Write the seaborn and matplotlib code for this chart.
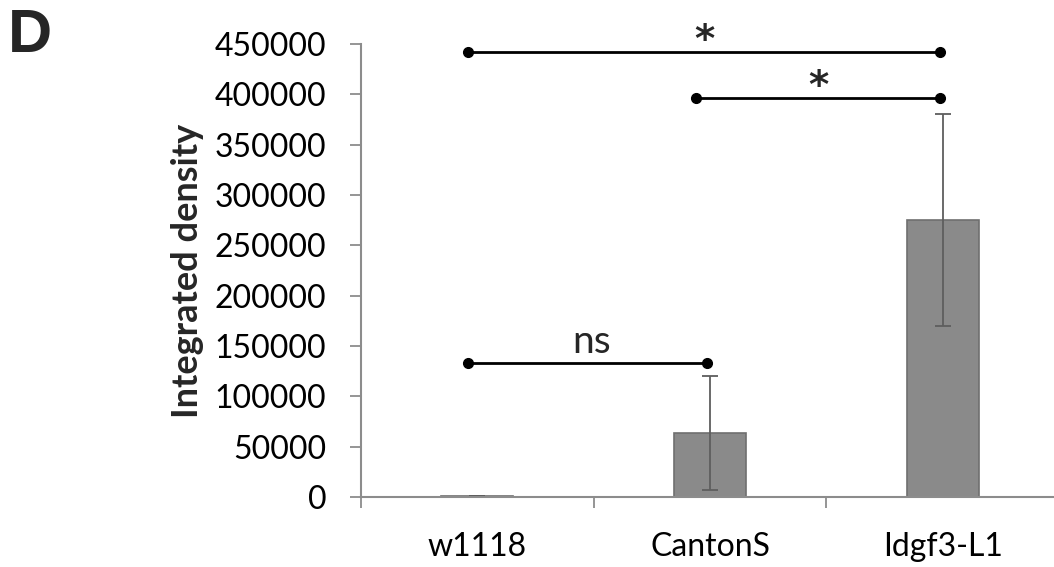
import numpy as np
import matplotlib
matplotlib.use('Agg')
import matplotlib.pyplot as plt
import seaborn as sns

# data
groups = ['w1118', 'CantonS', 'Idgf3-L1']
means = [1000, 63500, 275000]
errs = [0, 56500, 105500]

# significance brackets: (x_start, x_end, height, label)
brackets = [(-0.04, 1.99, 442000, '*'),
            (0.94, 1.99, 396500, '*'),
            (-0.04, 0.985, 133500, 'ns')]

sns.set_style('white')
plt.rcParams['font.family'] = ['Lato', 'DejaVu Sans']

fig = plt.figure(figsize=(10.54, 5.67), dpi=100)
ax = fig.add_axes([361/1054, 1 - 497/567, 698/1054, 453/567])

sns.barplot(x=groups, y=means, ax=ax, color='#8a8a8a', width=0.31,
            edgecolor='#6f6f6f', linewidth=1.2, saturation=1, errorbar=None)
ax.errorbar(range(len(groups)), means, yerr=errs, fmt='none',
            ecolor='#5e5e5e', elinewidth=1.3, capsize=6, capthick=1.3)

for x0, x1, h, lab in brackets:
    ax.plot([x0, x1], [h, h], color='black', lw=2, marker='o', ms=7,
            clip_on=False, zorder=5)
    if lab == '*':
        ax.text((x0 + x1) / 2, h - 8000, lab, ha='center', va='bottom',
                fontsize=28, fontweight='bold', family='DejaVu Sans',
                clip_on=False)
    else:
        ax.text((x0 + x1) / 2 + 0.02, h + 3000, lab, ha='center', va='bottom',
                fontsize=28, clip_on=False)

ax.set_xlim(-0.5, 2.5)
ax.set_ylim(0, 450000)
ax.set_yticks(np.arange(0, 450001, 50000))
ax.set_yticklabels([str(v) for v in range(0, 450001, 50000)])

for s in ['top', 'right']:
    ax.spines[s].set_visible(False)
for s in ['left', 'bottom']:
    ax.spines[s].set_color('#8c8c8c')
    ax.spines[s].set_linewidth(1.5)

ax.tick_params(axis='y', which='major', left=True, length=8, width=1.3,
               color='#8c8c8c', direction='out', pad=17, labelsize=23,
               labelcolor='black')
ax.set_xticks([-0.5, 0.5, 1.5, 2.5], minor=True)
ax.tick_params(axis='x', which='minor', bottom=True, length=8, width=1.3,
               color='#8c8c8c', direction='out')
ax.tick_params(axis='x', which='major', bottom=False, length=0, pad=25,
               labelsize=23, labelcolor='black')

ax.set_ylabel('Integrated density', fontsize=26, fontweight='bold', labelpad=8)

fig.text(8/1054, 1 - 8/567, 'D', fontsize=44, fontweight='bold',
         family='Liberation Sans', ha='left', va='top')

fig.savefig('out.png', dpi=100)
